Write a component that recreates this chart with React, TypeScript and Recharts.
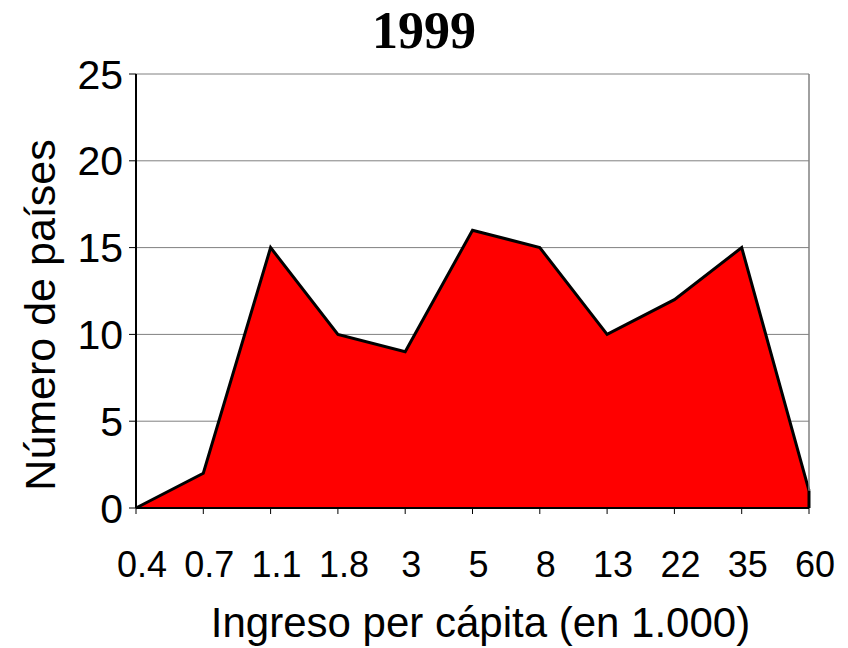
import { AreaChart, Area, XAxis, YAxis, CartesianGrid, ReferenceLine, Label } from "recharts";

// income brackets (thousands) and number of countries, 1999
const brackets = ["0.4", "0.7", "1.1", "1.8", "3", "5", "8", "13", "22", "35", "60"];
const countries = [0, 2, 15, 10, 9, 16, 15, 10, 12, 15, 1];
const yTicks = [0, 5, 10, 15, 20, 25];

const data = brackets.map((b, i) => ({ bracket: b, paises: countries[i] }));

const FONT = '"Liberation Sans", Arial, sans-serif';

function XTick({ x, y, payload }: any) {
  // labels sit a little right of their tick in the original
  return (
    <text x={x + 6} y={y + 63} textAnchor="middle" fontSize={36} fontFamily={FONT} fill="#000">
      {payload.value}
    </text>
  );
}

export default function App() {
  const last = brackets[brackets.length - 1];
  const lastVal = countries[countries.length - 1];

  return (
    <div
      style={{
        position: "absolute",
        left: 0,
        top: 0,
        width: 848,
        height: 648,
        background: "#fff",
        fontFamily: FONT,
      }}
    >
      <div
        style={{
          position: "absolute",
          left: 0,
          top: 3,
          width: 848,
          textAlign: "center",
          fontFamily: '"Liberation Serif", "Times New Roman", serif',
          fontWeight: "bold",
          fontSize: 52,
          lineHeight: "56px",
        }}
      >
        1999
      </div>
      <AreaChart
        width={848}
        height={648}
        data={data}
        margin={{ top: 74, right: 39, left: 0, bottom: 50 }}
        style={{ fontFamily: FONT }}
      >
        <CartesianGrid vertical={false} stroke="#808080" strokeWidth={1} />
        <ReferenceLine x={last} stroke="#808080" strokeWidth={1.5} />
        <XAxis
          dataKey="bracket"
          height={90}
          stroke="#000"
          tickSize={6}
          tickMargin={0}
          tick={<XTick />}
          axisLine={{ stroke: "#000", strokeWidth: 2 }}
        >
          <Label
            content={({ viewBox }: any) => (
              <text
                x={viewBox.x + viewBox.width / 2 + 8}
                y={637}
                textAnchor="middle"
                fontSize={42}
                fontFamily={FONT}
                fill="#000"
              >
                Ingreso per cápita (en 1.000)
              </text>
            )}
          />
        </XAxis>
        <YAxis
          width={136}
          domain={[0, 25]}
          ticks={yTicks}
          stroke="#000"
          tickSize={7}
          tickMargin={6}
          tick={{ fontSize: 41, fill: "#000", fontFamily: FONT }}
          axisLine={{ stroke: "#000", strokeWidth: 2 }}
        >
          <Label
            content={({ viewBox }: any) => {
              const cx = 40;
              const cy = viewBox.y + viewBox.height / 2 + 24;
              return (
                <text
                  x={cx}
                  y={cy}
                  transform={`rotate(-90 ${cx} ${cy})`}
                  textAnchor="middle"
                  dominantBaseline="central"
                  fontSize={43}
                  fontFamily={FONT}
                  fill="#000"
                >
                  Número de países
                </text>
              );
            }}
          />
        </YAxis>
        <Area
          type="linear"
          dataKey="paises"
          stroke="#000"
          strokeWidth={3}
          fill="#ff0000"
          fillOpacity={1}
          dot={false}
          activeDot={false}
          isAnimationActive={false}
        />
        <ReferenceLine
          segment={[
            { x: last, y: 0 },
            { x: last, y: lastVal },
          ]}
          stroke="#000"
          strokeWidth={3}
        />
      </AreaChart>
    </div>
  );
}
